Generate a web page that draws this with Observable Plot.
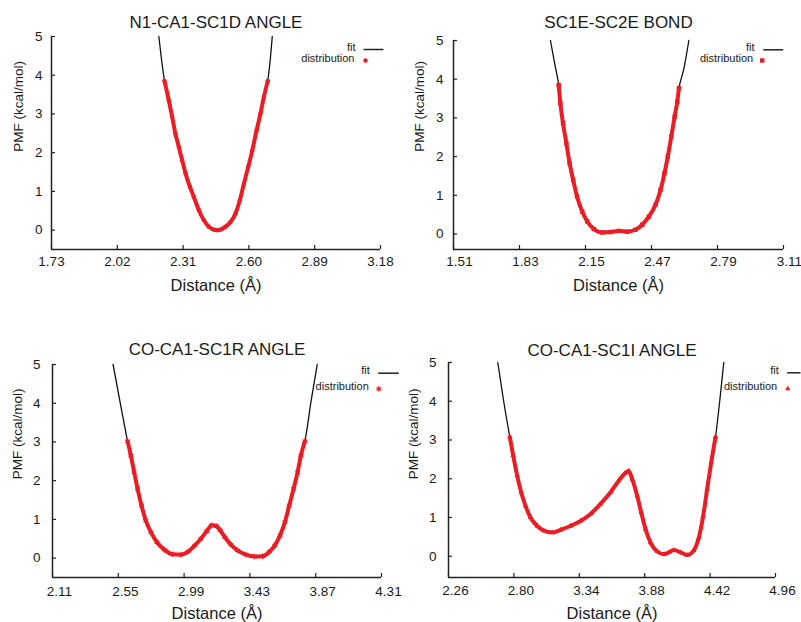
<!DOCTYPE html>
<html><head><meta charset="utf-8">
<script src="https://cdn.jsdelivr.net/npm/d3@7"></script>
<script src="https://cdn.jsdelivr.net/npm/@observablehq/plot@0.6"></script>
<style>
body{margin:0;background:#fff}
#chart{position:relative;width:801px;height:622px;background:#fff;overflow:hidden}
.panel{position:absolute}
</style></head><body><div id="chart"></div>
<script>
// ---------- data ----------
const titles = ["N1-CA1-SC1D ANGLE", "SC1E-SC2E BOND", "CO-CA1-SC1R ANGLE", "CO-CA1-SC1I ANGLE"];
const xLabel = "Distance (Å)";
const yLabel = "PMF (kcal/mol)";
const legendLabels = ["fit", "distribution"];
const yTickValues = [0, 1, 2, 3, 4, 5];

const xTicks1 = ["1.73", "2.02", "2.31", "2.60", "2.89", "3.18"];
const xTicks2 = ["1.51", "1.83", "2.15", "2.47", "2.79", "3.11"];
const xTicks3 = ["2.11", "2.55", "2.99", "3.43", "3.87", "4.31"];
const xTicks4 = ["2.26", "2.80", "3.34", "3.88", "4.42", "4.96"];

// panel 1 : N1-CA1-SC1D angle
const dist1X = [2.228, 2.247, 2.262, 2.276, 2.291, 2.306, 2.321, 2.340, 2.357, 2.379, 2.401, 2.423, 2.442, 2.460, 2.478, 2.497, 2.519, 2.541, 2.560, 2.578, 2.597, 2.615, 2.634, 2.651, 2.666, 2.683];
const dist1Y = [3.85, 3.35, 2.92, 2.49, 2.15, 1.80, 1.46, 1.12, 0.86, 0.52, 0.26, 0.09, 0.02, 0.00, 0.02, 0.09, 0.21, 0.43, 0.77, 1.20, 1.63, 2.06, 2.58, 3.01, 3.44, 3.85];
const fit1X = [2.203, 2.215, 2.228, 2.262, 2.306, 2.357, 2.401, 2.442, 2.460, 2.478, 2.519, 2.560, 2.615, 2.666, 2.683, 2.694, 2.703];
const fit1Y = [5.0, 4.40, 3.85, 2.92, 1.80, 0.86, 0.26, 0.02, 0.0, 0.02, 0.21, 0.77, 2.06, 3.44, 3.85, 4.40, 5.0];

// panel 2 : SC1E-SC2E bond
const dist2X = [2.020, 2.028, 2.041, 2.057, 2.073, 2.090, 2.109, 2.134, 2.158, 2.190, 2.231, 2.271, 2.311, 2.352, 2.392, 2.425, 2.457, 2.490, 2.514, 2.533, 2.549, 2.566, 2.582, 2.595, 2.603];
const dist2Y = [3.85, 3.38, 2.86, 2.35, 1.83, 1.40, 0.97, 0.58, 0.33, 0.13, 0.04, 0.05, 0.08, 0.06, 0.11, 0.24, 0.45, 0.76, 1.14, 1.57, 2.00, 2.52, 3.03, 3.42, 3.77];
const fit2X = [1.980, 2.000, 2.020, 2.041, 2.073, 2.109, 2.158, 2.231, 2.271, 2.311, 2.352, 2.392, 2.457, 2.514, 2.549, 2.582, 2.603, 2.628, 2.651];
const fit2Y = [5.0, 4.42, 3.85, 2.86, 1.83, 0.97, 0.33, 0.04, 0.05, 0.07, 0.06, 0.11, 0.45, 1.14, 2.00, 3.03, 3.77, 4.30, 5.0];

// panel 3 : CO-CA1-SC1R angle
const dist3X = [2.612, 2.634, 2.656, 2.679, 2.705, 2.734, 2.768, 2.808, 2.857, 2.913, 2.968, 3.017, 3.062, 3.102, 3.142, 3.175, 3.205, 3.231, 3.263, 3.303, 3.347, 3.403, 3.459, 3.515, 3.559, 3.597, 3.632, 3.664, 3.693, 3.722, 3.749, 3.771, 3.798];
const dist3Y = [3.02, 2.65, 2.22, 1.79, 1.36, 0.97, 0.67, 0.41, 0.22, 0.10, 0.09, 0.17, 0.33, 0.50, 0.70, 0.85, 0.83, 0.72, 0.54, 0.35, 0.20, 0.09, 0.04, 0.05, 0.16, 0.33, 0.59, 0.93, 1.36, 1.79, 2.22, 2.65, 3.02];
const fit3X = [2.515, 2.562, 2.612, 2.656, 2.705, 2.768, 2.857, 2.968, 3.062, 3.142, 3.180, 3.231, 3.303, 3.403, 3.515, 3.597, 3.664, 3.722, 3.771, 3.798, 3.838, 3.880];
const fit3Y = [5.0, 4.03, 3.02, 2.22, 1.36, 0.67, 0.22, 0.09, 0.33, 0.70, 0.85, 0.72, 0.35, 0.09, 0.05, 0.33, 0.93, 1.79, 2.65, 3.02, 4.03, 5.0];

// panel 4 : CO-CA1-SC1I angle
const dist4X = [2.766, 2.794, 2.827, 2.860, 2.896, 2.937, 2.992, 3.047, 3.116, 3.185, 3.267, 3.350, 3.433, 3.515, 3.598, 3.666, 3.722, 3.748, 3.777, 3.818, 3.851, 3.887, 3.928, 3.983, 4.040, 4.080, 4.120, 4.176, 4.231, 4.286, 4.327, 4.363, 4.396, 4.429, 4.465];
const dist4Y = [3.08, 2.60, 2.08, 1.65, 1.30, 1.00, 0.78, 0.66, 0.61, 0.68, 0.78, 0.91, 1.09, 1.35, 1.65, 1.95, 2.15, 2.20, 1.99, 1.56, 1.13, 0.70, 0.35, 0.12, 0.05, 0.10, 0.16, 0.10, 0.03, 0.15, 0.48, 1.04, 1.74, 2.42, 3.08];
const fit4X = [2.667, 2.712, 2.766, 2.827, 2.896, 2.992, 3.116, 3.267, 3.433, 3.598, 3.722, 3.748, 3.777, 3.818, 3.887, 3.983, 4.040, 4.120, 4.231, 4.286, 4.363, 4.429, 4.465, 4.500, 4.533];
const fit4Y = [5.0, 4.07, 3.08, 2.08, 1.30, 0.78, 0.61, 0.78, 1.09, 1.65, 2.15, 2.20, 1.99, 1.56, 0.70, 0.12, 0.05, 0.16, 0.03, 0.15, 1.04, 2.42, 3.08, 4.02, 5.0];

// ---------- drawing ----------
const RED = "#ec1c24";
const INK = "#1a1a1a";
const FONT = "'Liberation Sans', Arial, Helvetica, sans-serif";
const lineSymbol = {draw(ctx, size) { const r = Math.sqrt(size / Math.PI); ctx.moveTo(-r, 0); ctx.lineTo(r, 0); }};
const zip = (xs, ys) => xs.map((x, i) => ({x, y: ys[i]}));

const panels = [
  {title: titles[0], ticks: xTicks1, distX: dist1X, distY: dist1Y, fitX: fit1X, fitY: fit1Y,
   left: 0, top: 0, width: 400, height: 300, mL: 51, mR: 20, mT: 36, mB: 51, yDomain: [-0.5, 5],
   xdx: 0, xPad: 7, yPad: 9, titleY: 21.7, yLabX: 18.3, yLabY: 151.3,
   symbol: "circle", r: 2.2, filled: true,
   leg: {fitX: 355, fitY: 46.7, l1: 363, l2: 383, lY: 49, distX: 354, distY: 58.3, mX: 365, mY: 60}},
  {title: titles[1], ticks: xTicks2, distX: dist2X, distY: dist2Y, fitX: fit2X, fitY: fit2Y,
   left: 400, top: 0, width: 401, height: 300, mL: 53, mR: 18, mT: 40, mB: 51, yDomain: [-0.4, 5],
   xdx: 6, xPad: 7, yPad: 10, titleY: 21.7, yLabX: 419.3, yLabY: 151.3,
   symbol: "square", r: 2.5, filled: true,
   leg: {fitX: 754, fitY: 46.7, l1: 762.7, l2: 782.7, lY: 49.3, distX: 752.7, distY: 58.3, mX: 761.7, mY: 60}},
  {title: titles[2], ticks: xTicks3, distX: dist3X, distY: dist3Y, fitX: fit3X, fitY: fit3Y,
   left: 0, top: 322, width: 400, height: 300, mL: 52, mR: 19, mT: 42, mB: 45, yDomain: [-0.5, 5],
   xdx: 7, xPad: 8.6, yPad: 12, titleY: 349.2, yLabX: 17.3, yLabY: 478.7,
   symbol: "asterisk", r: 2.6, filled: false,
   leg: {fitX: 369.3, fitY: 370, l1: 377.7, l2: 398.3, lY: 372.7, distX: 368.3, distY: 386, mX: 378.3, mY: 388.3}},
  {title: titles[3], ticks: xTicks4, distX: dist4X, distY: dist4Y, fitX: fit4X, fitY: fit4Y,
   left: 400, top: 322, width: 401, height: 300, mL: 48, mR: 26, mT: 40, mB: 45, yDomain: [-0.55, 5],
   xdx: 7, xPad: 7.6, yPad: 12, titleY: 350, yLabX: 413.3, yLabY: 478.7,
   symbol: "triangle", r: 2.0, filled: true,
   leg: {fitX: 778.3, fitY: 370, l1: 786.7, l2: 800, lY: 372.3, distX: 776.7, distY: 386, mX: 787.3, mY: 388.3}}
];

const chart = document.getElementById("chart");

for (const c of panels) {
  const xt = c.ticks.map(Number);
  const fw = c.width - c.mL - c.mR;
  const fh = c.height - c.mT - c.mB;
  const frameRight = c.left + c.width - c.mR;
  const frameTop = c.top + c.mT;
  const frameLeft = c.left + c.mL;
  const frameMidY = frameTop + fh / 2;
  const L = c.leg;
  const dist = zip(c.distX, c.distY);
  const markStyle = c.filled ? {fill: RED, stroke: "none"} : {fill: "none", stroke: RED, strokeWidth: 1.2};

  const svg = Plot.plot({
    width: c.width, height: c.height,
    marginLeft: c.mL, marginRight: c.mR, marginTop: c.mT, marginBottom: c.mB,
    x: {domain: [xt[0], xt[xt.length - 1]]},
    y: {domain: c.yDomain},
    style: {fontFamily: FONT, fontSize: "13.5px", color: INK, background: "transparent", overflow: "visible"},
    marks: [
      Plot.line(zip(c.fitX, c.fitY), {x: "x", y: "y", stroke: "#111", strokeWidth: 1.3, curve: "monotone-x"}),
      Plot.line(dist, {x: "x", y: "y", stroke: RED, strokeWidth: 4, curve: "monotone-x", strokeLinecap: "round"}),
      Plot.dot(dist, {x: "x", y: "y", symbol: c.symbol, r: c.r, ...markStyle}),
      Plot.ruleX([xt[0]], {stroke: "#222", strokeWidth: 1.5}),
      Plot.ruleY([c.yDomain[0]], {stroke: "#222", strokeWidth: 1.5}),
      Plot.tickX(xt, {x: d => d, insetTop: fh - 4, stroke: "#222", strokeWidth: 1.2}),
      Plot.tickY(yTickValues, {y: d => d, insetRight: fw - 4, stroke: "#222", strokeWidth: 1.2}),
      Plot.axisX({ticks: xt, tickSize: 0, tickPadding: c.xPad, tickFormat: d => d.toFixed(2), label: null, dx: c.xdx, fontSize: 13.5, fill: INK}),
      Plot.axisY({ticks: yTickValues, tickSize: 0, tickPadding: c.yPad, tickFormat: d => String(d), label: null, fontSize: 13.5, fill: INK}),
      Plot.text([c.title], {text: d => d, frameAnchor: "top", dy: c.titleY - frameTop, fontSize: 17, lineAnchor: "middle", fill: INK}),
      Plot.text([xLabel], {text: d => d, frameAnchor: "bottom", dy: 36, fontSize: 16.5, lineAnchor: "middle", fill: INK}),
      Plot.text([yLabel], {text: d => d, frameAnchor: "left", rotate: -90, dx: c.yLabX - frameLeft, dy: c.yLabY - frameMidY, fontSize: 13.5, lineAnchor: "middle", fill: INK}),
      // legend
      Plot.text([legendLabels[0]], {text: d => d, frameAnchor: "top-right", textAnchor: "end", lineAnchor: "middle", dx: L.fitX - frameRight, dy: L.fitY - frameTop, fontSize: 11, fill: INK}),
      Plot.dot([0], {frameAnchor: "top-right", dx: (L.l1 + L.l2) / 2 - frameRight, dy: L.lY - frameTop, symbol: lineSymbol, r: (L.l2 - L.l1) / 2, stroke: "#222", strokeWidth: 1.5, fill: "none"}),
      Plot.text([legendLabels[1]], {text: d => d, frameAnchor: "top-right", textAnchor: "end", lineAnchor: "middle", dx: L.distX - frameRight, dy: L.distY - frameTop, fontSize: 11, fill: INK}),
      Plot.dot([0], {frameAnchor: "top-right", dx: L.mX - frameRight, dy: L.mY - frameTop, symbol: c.symbol, r: c.r, ...markStyle})
    ]
  });
  const div = document.createElement("div");
  div.className = "panel";
  div.style.left = c.left + "px";
  div.style.top = c.top + "px";
  div.appendChild(svg);
  chart.appendChild(div);
}
</script>
</body></html>
